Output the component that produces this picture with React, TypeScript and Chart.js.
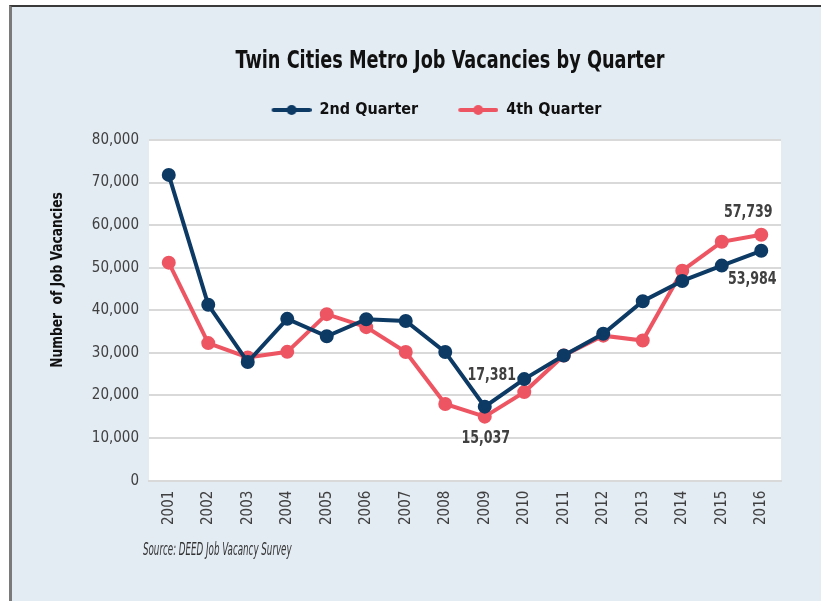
import { useEffect, useRef } from "react";
import { Chart, registerables } from "chart.js";

Chart.register(...registerables);

const years = ["2001", "2002", "2003", "2004", "2005", "2006", "2007", "2008", "2009", "2010", "2011", "2012", "2013", "2014", "2015", "2016"];
const secondQuarter = [71800, 41300, 27850, 38000, 33900, 37900, 37500, 30200, 17381, 23850, 29400, 34500, 42150, 46900, 50500, 53984];
const fourthQuarter = [51200, 32300, 28950, 30250, 39100, 36050, 30200, 18000, 15037, 20800, 29400, 34050, 32900, 49300, 56100, 57739];
const seriesNames = ["2nd Quarter", "4th Quarter"];
const yMin = 0;
const yMax = 80000;
const yStep = 10000;
const chartTitle = "Twin Cities Metro Job Vacancies by Quarter";
const yAxisTitle = "Number  of Job Vacancies";
const sourceNote = "Source: DEED Job Vacancy Survey";

const NAVY = "#0c3a64";
const RED = "#ee5563";
const FONT = "'DejaVu Sans Condensed', 'Liberation Sans Narrow', sans-serif";

// value callouts: which series / which point, and where to put text relative to the point
const callouts = [
  { series: 0, index: 8, dx: 7, dy: -31 },
  { series: 1, index: 8, dx: 1, dy: 22 },
  { series: 1, index: 15, dx: -13, dy: -22 },
  { series: 0, index: 15, dx: -9, dy: 29 },
];

function legendIcon(color: string) {
  const c = document.createElement("canvas");
  c.width = 45;
  c.height = 12;
  const ctx = c.getContext("2d")!;
  ctx.strokeStyle = color;
  ctx.lineWidth = 4;
  ctx.lineCap = "round";
  ctx.beginPath();
  ctx.moveTo(7, 6);
  ctx.lineTo(43, 6);
  ctx.stroke();
  ctx.fillStyle = color;
  ctx.beginPath();
  ctx.arc(25, 6, 5, 0, Math.PI * 2);
  ctx.fill();
  return c;
}

const fmt = (v: number) => v.toLocaleString("en-US");

function squeezedText(ctx: CanvasRenderingContext2D, text: string, x: number, y: number, sx: number) {
  ctx.save();
  ctx.translate(x, y);
  ctx.scale(sx, 1);
  ctx.fillText(text, 0, 0);
  ctx.restore();
}

export default function App() {
  const ref = useRef<HTMLCanvasElement>(null);

  useEffect(() => {
    if (!ref.current) return;
    const icons = [legendIcon(NAVY), legendIcon(RED)];

    const extras = {
      id: "extras",
      beforeDraw(chart: any) {
        const { ctx, chartArea } = chart;
        ctx.save();
        ctx.fillStyle = "#ffffff";
        ctx.fillRect(chartArea.left, chartArea.top, chartArea.right - chartArea.left, chartArea.bottom - chartArea.top);
        ctx.restore();
      },
      afterDraw(chart: any) {
        const { ctx, chartArea } = chart;

        // chart title
        ctx.save();
        ctx.font = `bold 24px ${FONT}`;
        ctx.fillStyle = "#111111";
        ctx.textAlign = "center";
        ctx.textBaseline = "middle";
        squeezedText(ctx, chartTitle, chartArea.left + 301, chartArea.top - 78, 0.82);
        ctx.restore();

        // y-axis title
        ctx.save();
        ctx.translate(chartArea.left - 91, chartArea.top + 140);
        ctx.rotate(-Math.PI / 2);
        ctx.font = `bold 16px ${FONT}`;
        ctx.fillStyle = "#111111";
        ctx.textAlign = "center";
        ctx.textBaseline = "middle";
        squeezedText(ctx, yAxisTitle, 0, 0, 0.85);
        ctx.restore();

        // source note
        ctx.save();
        ctx.font = `italic 17px ${FONT}`;
        ctx.fillStyle = "#333333";
        ctx.textAlign = "left";
        ctx.textBaseline = "middle";
        squeezedText(ctx, sourceNote, chartArea.left - 6, chartArea.bottom + 70, 0.57);
        ctx.restore();

        // value callouts
        ctx.save();
        ctx.font = `bold 18px ${FONT}`;
        ctx.fillStyle = "#404040";
        ctx.textAlign = "center";
        ctx.textBaseline = "middle";
        for (const c of callouts) {
          const el = chart.getDatasetMeta(c.series).data[c.index];
          const v = chart.data.datasets[c.series].data[c.index] as number;
          squeezedText(ctx, fmt(v), el.x + c.dx, el.y + c.dy, 0.78);
        }
        ctx.restore();
      },
    };

    const chart = new Chart(ref.current, {
      type: "line",
      data: {
        labels: years,
        datasets: [
          {
            label: seriesNames[0],
            data: secondQuarter,
            borderColor: NAVY,
            backgroundColor: NAVY,
            borderWidth: 4,
            pointRadius: 5,
            pointHoverRadius: 5,
            pointStyle: "circle",
            tension: 0,
          },
          {
            label: seriesNames[1],
            data: fourthQuarter,
            borderColor: RED,
            backgroundColor: RED,
            borderWidth: 4,
            pointRadius: 5,
            pointHoverRadius: 5,
            pointStyle: "circle",
            tension: 0,
          },
        ],
      },
      options: {
        animation: false,
        responsive: false,
        layout: { padding: { left: 87, right: 119, top: 67, bottom: 66 } },
        plugins: {
          title: { display: false },
          // empty spacer between legend and plot area
          subtitle: {
            display: true,
            text: "",
            position: "top",
            weight: 500,
            font: { size: 10 },
            padding: 0,
          },
          legend: {
            display: true,
            position: "top",
            labels: {
              usePointStyle: true,
              pointStyleWidth: 45,
              boxHeight: 12,
              padding: 35,
              color: "#111111",
              font: { family: FONT, size: 16, weight: "bold" },
              generateLabels: (ch: any) =>
                ch.data.datasets.map((ds: any, i: number) => ({
                  text: ds.label,
                  pointStyle: icons[i],
                  fillStyle: ds.borderColor,
                  strokeStyle: ds.borderColor,
                  lineWidth: 0,
                  hidden: false,
                  datasetIndex: i,
                  fontColor: "#111111",
                })),
            },
          },
          tooltip: { enabled: false },
        },
        scales: {
          x: {
            offset: true,
            grid: { display: false, drawTicks: false },
            border: { display: true, color: "#d9d9d9", width: 2 },
            ticks: {
              minRotation: 90,
              maxRotation: 90,
              padding: 10,
              color: "#404040",
              font: { family: FONT, size: 15 },
            },
          },
          y: {
            min: yMin,
            max: yMax,
            afterFit: (scale: any) => {
              scale.width = 62;
            },
            grid: { color: "#d9d9d9", lineWidth: 2, drawTicks: false },
            border: { display: false },
            ticks: {
              stepSize: yStep,
              padding: 10,
              color: "#404040",
              font: { family: FONT, size: 15 },
              callback: (v: any) => fmt(Number(v)),
            },
          },
        },
      },
      plugins: [extras],
    });
    return () => chart.destroy();
  }, []);

  return (
    <div style={{ position: "fixed", left: 0, top: 0, width: 821, height: 601, overflow: "hidden", background: "#ffffff" }}>
      <div
        style={{
          position: "absolute",
          left: 9,
          top: 5,
          width: 812,
          height: 596,
          background: "#e3ebf3",
          borderTop: "2px solid #3a3a3a",
          borderLeft: "3px solid #7a7a7a",
        }}
      />
      <canvas ref={ref} width={900} height={601} style={{ position: "absolute", left: 0, top: 0, width: 900, height: 601 }} />
    </div>
  );
}
